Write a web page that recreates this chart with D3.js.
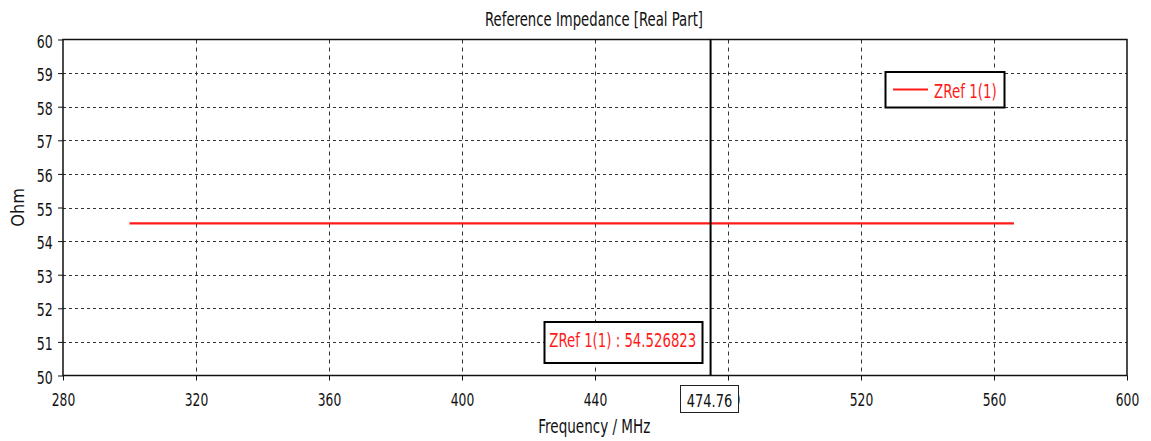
<!DOCTYPE html>
<html><head><meta charset="utf-8">
<script src="https://cdn.jsdelivr.net/npm/d3@7"></script>
<style>body{margin:0;background:#fff}svg text{font-family:"DejaVu Sans",sans-serif}</style>
</head><body><svg id="c" width="1151" height="441"></svg>
<script>
const xTicks = [280,320,360,400,440,480,520,560,600];
const yTicks = [50,51,52,53,54,55,56,57,58,59,60];
const freq = [300,566];
const zref = [54.526823,54.526823];
const seriesName = "ZRef 1(1)";
const markerFreq = 474.76;
const markerValue = "54.526823";
const title = "Reference Impedance [Real Part]";
const xLabel = "Frequency / MHz";
const yLabel = "Ohm";

const svg = d3.select("#c");
const L=63,R=1127,T=39.5,B=375.5;
const x = d3.scaleLinear().domain([280,600]).range([L,R]);
const y = d3.scaleLinear().domain([50,60]).range([B,T]);
const fsTick = 17.5, fs = 19;
const squeeze = (sel,w)=>sel.attr("textLength",w).attr("lengthAdjust","spacingAndGlyphs");

// grid
svg.append("g").selectAll("line").data(xTicks.slice(1,-1)).join("line")
  .attr("x1",d=>Math.round(x(d))+0.5).attr("x2",d=>Math.round(x(d))+0.5).attr("y1",T).attr("y2",B)
  .attr("stroke","#333").attr("stroke-width",1).attr("stroke-dasharray","4,4");
svg.append("g").selectAll("line").data(yTicks.slice(1,-1)).join("line")
  .attr("y1",d=>Math.round(y(d))+0.5).attr("y2",d=>Math.round(y(d))+0.5).attr("x1",L).attr("x2",R)
  .attr("stroke","#333").attr("stroke-width",1).attr("stroke-dasharray","3,3");

// frame
svg.append("rect").attr("x",L).attr("y",T).attr("width",R-L).attr("height",B-T)
  .attr("fill","none").attr("stroke","#111").attr("stroke-width",1.5);

// axes
const xa = svg.append("g").attr("transform",`translate(0,${B})`)
  .call(d3.axisBottom(x).tickValues(xTicks).tickSize(5).tickFormat(d3.format("d")));
const ya = svg.append("g").attr("transform",`translate(${L},0)`)
  .call(d3.axisLeft(y).tickValues(yTicks).tickSize(5).tickFormat(d3.format("d")));
[xa,ya].forEach(g=>{g.select(".domain").remove();g.selectAll("line").attr("stroke","#111");
  g.selectAll("text").attr("font-size",fsTick).attr("fill","#111").style("font-family",'"DejaVu Sans",sans-serif');});
xa.selectAll("text").attr("y",30.5).attr("dy",0).each(function(d){squeeze(d3.select(this),23.5);});
ya.selectAll("text").attr("x",-10.3).attr("dy",7.5).each(function(d){squeeze(d3.select(this),16);});

// series
svg.append("path").datum(freq.map((f,i)=>[f,zref[i]]))
  .attr("d",d3.line().x(d=>x(d[0])).y(d=>y(d[1])))
  .attr("stroke","#ff1a1a").attr("stroke-width",2.2).attr("fill","none");

// marker
svg.append("line").attr("x1",x(markerFreq)).attr("x2",x(markerFreq)).attr("y1",T).attr("y2",B)
  .attr("stroke","#000").attr("stroke-width",2);

// marker value box
svg.append("rect").attr("x",544.5).attr("y",322).attr("width",158).attr("height",41)
  .attr("fill","#fff").attr("stroke","#000").attr("stroke-width",2);
squeeze(svg.append("text").attr("x",549.3).attr("y",346.7).attr("font-size",fs)
  .attr("fill","#ff1a1a").text(`${seriesName} : ${markerValue}`),147);

// marker x label box
svg.append("rect").attr("x",680.5).attr("y",385.5).attr("width",58).attr("height",27)
  .attr("fill","#fff").attr("stroke","#222").attr("stroke-width",1);
squeeze(svg.append("text").attr("x",686.7).attr("y",406.5).attr("font-size",fsTick)
  .attr("fill","#111").text(markerFreq.toFixed(2)),45.6);

// legend
svg.append("rect").attr("x",885.5).attr("y",72).attr("width",119).attr("height",35.5)
  .attr("fill","#fff").attr("stroke","#000").attr("stroke-width",2);
svg.append("line").attr("x1",893).attr("x2",928).attr("y1",89.5).attr("y2",89.5)
  .attr("stroke","#ff1a1a").attr("stroke-width",2);
squeeze(svg.append("text").attr("x",934).attr("y",98).attr("font-size",fs).attr("fill","#ff1a1a").text(seriesName),62.7);

// titles
squeeze(svg.append("text").attr("x",485).attr("y",26).attr("font-size",fs).attr("fill","#111").text(title),218);
squeeze(svg.append("text").attr("x",538.3).attr("y",433).attr("font-size",fs).attr("fill","#111").text(xLabel),112);
squeeze(svg.append("text").attr("transform","translate(24,226.7) rotate(-90)").attr("font-size",17).attr("fill","#111").text(yLabel),38.7);
</script></body></html>
